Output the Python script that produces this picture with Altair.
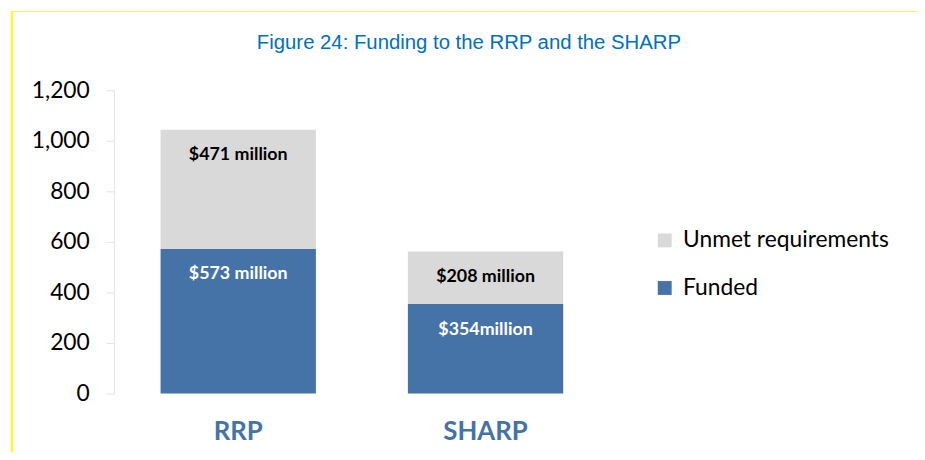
import altair as alt
import pandas as pd

categories = ["RRP", "SHARP"]
funded = [573, 354]
unmet = [471, 208]
funded_labels = ["$573 million", "$354million"]
unmet_labels = ["$471 million", "$208 million"]
series = ["Unmet requirements", "Funded"]
y_ticks = [0, 200, 400, 600, 800, 1000, 1200]

BLUE = "#4572a7"
GRAY = "#d9d9d9"
FONT = "Lato"

rows = []
for i, c in enumerate(categories):
    rows.append({"cat": c, "series": "Funded", "value": funded[i], "ord": 0,
                 "top": funded[i], "label": funded_labels[i], "lc": "white"})
    rows.append({"cat": c, "series": "Unmet requirements", "value": unmet[i], "ord": 1,
                 "top": funded[i] + unmet[i], "label": unmet_labels[i], "lc": "black"})
df = pd.DataFrame(rows)

xscale = alt.Scale(paddingInner=0.372, paddingOuter=0.188)
yscale = alt.Scale(domain=[0, 1200], nice=False)

bars = alt.Chart(df).mark_bar().encode(
    x=alt.X("cat:N", scale=xscale, sort=categories,
            axis=alt.Axis(title=None, domain=False, ticks=False, labelAngle=0,
                          labelFont=FONT, labelFontSize=26, labelFontWeight="bold",
                          labelColor=BLUE, labelPadding=25)),
    y=alt.Y("value:Q", stack="zero", scale=yscale,
            axis=alt.Axis(title=None, values=y_ticks, format=",.0f", grid=False,
                          domainColor="#e4e4e4", tickColor="#e4e4e4", tickSize=8,
                          labelFont=FONT, labelFontSize=23, labelColor="black",
                          labelPadding=17)),
    color=alt.Color("series:N", scale=alt.Scale(domain=series, range=[GRAY, BLUE]),
                    legend=alt.Legend(title=None, orient="none", legendX=544, legendY=140,
                                      symbolType="square", symbolSize=196,
                                      symbolStrokeWidth=0, labelFont=FONT,
                                      labelFontSize=23, labelColor="black",
                                      labelLimit=400, rowPadding=24, labelOffset=7)),
    order=alt.Order("ord:Q"),
)

labels = alt.Chart(df).mark_text(font=FONT, fontSize=18, fontWeight="bold",
                                 baseline="alphabetic", dy=31).encode(
    x=alt.X("cat:N", scale=xscale, sort=categories),
    y=alt.Y("top:Q", scale=yscale),
    text="label:N",
    color=alt.Color("lc:N", scale=None),
)

one = pd.DataFrame({"k": [0]})
title = alt.Chart(one).mark_text(
    text="Figure 24: Funding to the RRP and the SHARP",
    font="Liberation Sans", fontSize=20.5, color="#0070c0", baseline="alphabetic",
    align="center"
).encode(x=alt.value(358), y=alt.value(-42))

left_line = alt.Chart(one).mark_rule(color="#ffff00", strokeWidth=2).encode(
    x=alt.value(-103), y=alt.value(-80), y2=alt.value(380))
top_line = alt.Chart(one).mark_rule(color="#f5f060", strokeWidth=1).encode(
    x=alt.value(-103), x2=alt.value(820), y=alt.value(-79.5))

chart = alt.layer(left_line, top_line, title, bars, labels).properties(
    width=500, height=306,
    padding={"left": 107, "top": 81, "right": 310, "bottom": 57},
    autosize=alt.AutoSizeParams(type="none"),
).configure(background="white").configure_view(stroke=None, strokeWidth=0)

chart.save("out.html", embed_options={"renderer": "svg", "actions": False})
